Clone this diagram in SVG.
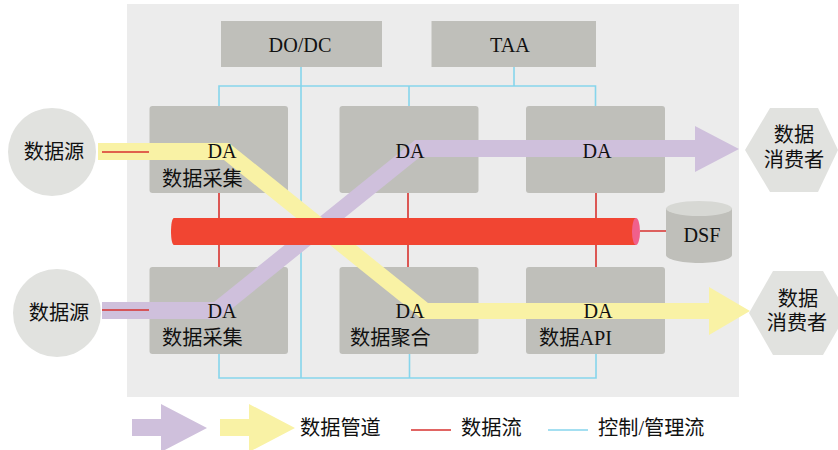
<svg xmlns="http://www.w3.org/2000/svg" width="838" height="450" viewBox="0 0 838 450">
<style>
.box{fill:#bfbfba}
.ext{fill:#e1e2df}
.t{font-family:"Liberation Serif","Noto Sans CJK SC",serif;font-size:20.2px;fill:#111}
.m{text-anchor:middle}
.ctl{fill:none;stroke:#86d5ec;stroke-width:1.6}
.dat{fill:none;stroke:#d7322f;stroke-width:1.6}
.pur{fill:#cfc0dc}
.yel{fill:#f9f2a5}
</style>
<rect width="838" height="450" fill="#fff"/>
<rect x="127" y="4" width="612" height="393" fill="#ececec"/>
<g id="connectors">
<path class="ctl" d="M301 67V378M219 106V86H595.500V106M409 86V106M514 67V86M219 354V378H596V354M409.500 354V378"/>
<path class="dat" d="M219 193V267M408 193V267M596 193V267M640 231H666"/>
</g>
<g id="do-dc"><rect class="box" x="221" y="21" width="161" height="46"/><text class="t m" x="300" y="52">DO/DC</text></g>
<g id="taa"><rect class="box" x="431.500" y="21" width="164.500" height="46"/><text class="t m" x="510" y="52">TAA</text></g>
<g id="collect-1"><rect class="box" x="149.500" y="106" width="138.500" height="87" rx="3"/></g>
<g id="mid-1"><rect class="box" x="339.500" y="106" width="139" height="87" rx="3"/></g>
<g id="right-1"><rect class="box" x="526" y="106" width="139" height="87" rx="3"/></g>
<g id="collect-2"><rect class="box" x="149.500" y="267" width="138.500" height="87" rx="3"/></g>
<g id="aggregate"><rect class="box" x="339.500" y="267" width="139" height="87" rx="3"/></g>
<g id="api"><rect class="box" x="526" y="267" width="139" height="87" rx="3"/></g>
<g id="pipes">
<polygon class="pur" points="102,302 214,302 415,140 695,140 695,126 739,149 695,172 695,157 420,157 219,319 102,319"/>
<polygon class="yel" points="98,143 229,143 428,303 709,303 709,287 750,311 709,335 709,319 422,319 224,160 98,160"/>
</g>
<g id="bus">
<path d="M174 218H636V245H174C170 245 170 218 174 218Z" fill="#f14532"/>
<ellipse cx="636" cy="231.500" rx="4" ry="13.500" fill="#f0608c"/>
</g>
<path class="dat" d="M102 152H149M102 310H149"/>
<g id="da-labels">
<text class="t m" x="222" y="158">DA</text><text class="t m" x="410" y="158">DA</text><text class="t m" x="597" y="158">DA</text>
<text class="t m" x="222" y="318">DA</text><text class="t m" x="410" y="318">DA</text><text class="t m" x="598" y="318">DA</text>
<text class="t" x="162" y="186">数据采集</text><text class="t" x="162" y="345">数据采集</text><text class="t" x="350" y="345">数据聚合</text><text class="t" x="539" y="345">数据API</text>
</g>
<g id="dsf"><path d="M666 208.500V255C666 259 680 263 699 263C718 263 732 259 732 255V208.500Z" fill="#bfbfba"/><ellipse cx="699" cy="208.500" rx="33" ry="7.500" fill="#d7d8d4"/><text class="t m" x="702" y="242">DSF</text></g>
<g id="source-1"><circle class="ext" cx="52" cy="152" r="44"/><text class="t m" x="54" y="159">数据源</text></g>
<g id="source-2"><circle class="ext" cx="57" cy="313" r="44"/><text class="t m" x="59" y="320">数据源</text></g>
<g id="consumer-1"><polygon class="ext" points="745,150 770,108 818,108 838,150 818,192 770,192"/><text class="t m" x="794" y="142">数据</text><text class="t m" x="794" y="167">消费者</text></g>
<g id="consumer-2"><polygon class="ext" points="749,313 773,271 823,271 847,313 823,355 773,355"/><text class="t m" x="798" y="306">数据</text><text class="t m" x="797" y="330">消费者</text></g>
<g id="legend">
<polygon class="pur" points="132,419 161,419 161,404 207,428 161,452 161,436 132,436"/>
<polygon class="yel" points="220,419 249,419 249,404 295,428 249,452 249,436 220,436"/>
<text class="t" x="300" y="435">数据管道</text>
<path class="dat" d="M411 430H451"/>
<text class="t" x="461" y="435">数据流</text>
<path class="ctl" d="M548 430H588"/>
<text class="t" x="598" y="435">控制/管理流</text>
</g>
</svg>
